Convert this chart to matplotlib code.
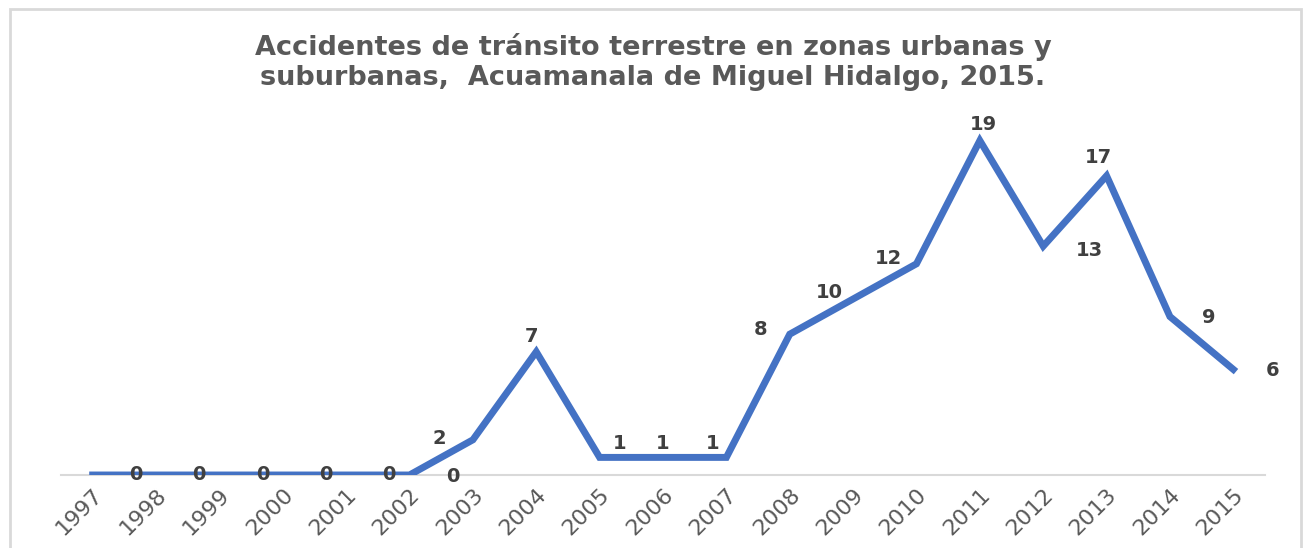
import matplotlib.pyplot as plt
from matplotlib.patches import Rectangle

years = ['1997', '1998', '1999', '2000', '2001', '2002', '2003', '2004', '2005', '2006',
         '2007', '2008', '2009', '2010', '2011', '2012', '2013', '2014', '2015']
accidents = [0, 0, 0, 0, 0, 0, 2, 7, 1, 1, 1, 8, 10, 12, 19, 13, 17, 9, 6]

# label offsets in pixels (dx, dy), mimicking the original placement
label_offsets = [(43, 0), (43, 0), (43, 0), (43, 0), (43, 0), (43, -2),
                 (-34, 1), (-5, 15), (20, 14), (0, 14), (-14, 14), (-29, 5),
                 (-24, 7), (-28, 5), (4, 16), (46, -4), (-8, 18), (39, -1), (39, -1)]

fig = plt.figure(figsize=(13.06, 5.48), dpi=100)
ax = fig.add_axes([61/1306, 1 - 475/548, 1204/1306, 352/548])

x = range(len(years))
ax.plot(x, accidents, color='#4472C4', lw=5, solid_joinstyle='miter', zorder=3)

for i, v in enumerate(accidents):
    dx, dy = label_offsets[i]
    ax.annotate(str(v), (i, v), xytext=(dx, dy), textcoords='offset pixels',
                ha='center', va='center', fontsize=14, fontweight='bold',
                color='#404040', zorder=4)

ax.set_xlim(-0.5, len(years) - 0.5)
ax.set_ylim(0, 20)
ax.set_xticks(list(x))
ax.set_xticklabels(years, rotation=45, ha='right', rotation_mode='anchor',
                   fontsize=16, color='#595959')
ax.tick_params(axis='x', length=0, pad=7)
ax.set_yticks([])
for s in ['top', 'right', 'left']:
    ax.spines[s].set_visible(False)
ax.spines['bottom'].set_color('#d9d9d9')
ax.spines['bottom'].set_linewidth(1.5)
ax.spines['bottom'].set_zorder(1)

fig.text(653/1306, 1 - 62/548,
         'Accidentes de tránsito terrestre en zonas urbanas y\nsuburbanas,  Acuamanala de Miguel Hidalgo, 2015.',
         ha='center', va='center', fontsize=19.5, fontweight='bold', color='#595959',
         linespacing=1.2)

fig.patches.append(Rectangle((10/1306, -0.02), 1291/1306, 1.02 - 9/548,
                             transform=fig.transFigure, fill=False,
                             edgecolor='#d9d9d9', lw=2))

fig.savefig('out.png', dpi=100)
